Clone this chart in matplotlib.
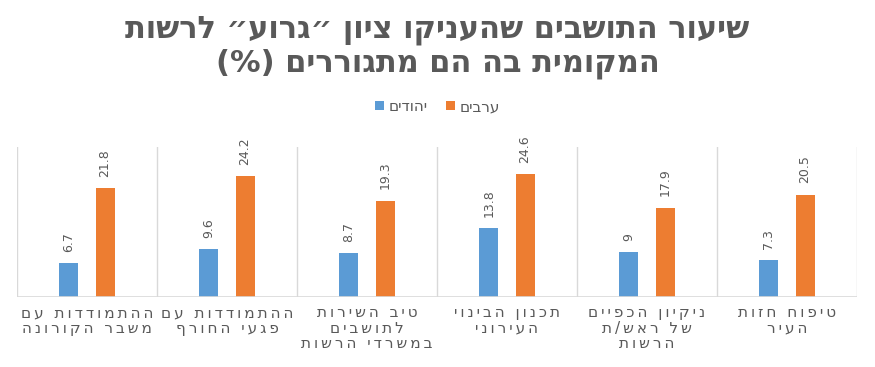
import matplotlib
matplotlib.use("Agg")
import matplotlib.pyplot as plt
import numpy as np

# data (left to right as shown in the chart)
categories = [
    "ההתמודדות עם\nמשבר הקורונה",
    "ההתמודדות עם\nפגעי החורף",
    "טיב השירות\nלתושבים\nבמשרדי הרשות",
    "תכנון הבינוי\nהעירוני",
    "ניקיון הכפיים\nשל ראש/ת\nהרשות",
    "טיפוח חזות\nהעיר",
]
jews = [6.7, 9.6, 8.7, 13.8, 9, 7.3]
arabs = [21.8, 24.2, 19.3, 24.6, 17.9, 20.5]
series_names = ["יהודים", "ערבים"]
title = "שיעור התושבים שהעניקו ציון ״גרוע״ לרשות\nהמקומית בה הם מתגוררים (%)"

MIRROR = str.maketrans("()", ")(")


def rtl(s, spaced=False):
    # matplotlib has no bidi support: reverse each line by hand
    lines = []
    for line in s.split("\n"):
        v = line[::-1].translate(MIRROR)
        if spaced:
            v = "\u2009".join(v)
        lines.append(v)
    return "\n".join(lines)


grey = "#595959"
blue = "#5B9BD5"
orange = "#ED7D31"
plt.rcParams["font.family"] = ["DejaVu Sans"]

fig = plt.figure(figsize=(8.75, 3.67), dpi=100)
ax = fig.add_axes([0.0194, 0.191, 0.96, 0.408])

x = np.arange(len(categories))
w = 0.136
off = 0.129
b1 = ax.bar(x - off, jews, w, color=blue, label=rtl(series_names[0]))
b2 = ax.bar(x + off, arabs, w, color=orange, label=rtl(series_names[1]))

for bars, vals in [(b1, jews), (b2, arabs)]:
    for r, v in zip(bars, vals):
        ax.annotate(f"{v:g}", (r.get_x() + r.get_width() / 2, v),
                    xytext=(0, 8), textcoords="offset points",
                    rotation=90, ha="center", va="bottom",
                    fontsize=9, color=grey)

ax.set_xlim(-0.5, len(categories) - 0.5)
ax.set_ylim(0, 30)
for b in np.arange(-0.5, len(categories), 1):
    ax.axvline(b, color="#d9d9d9", lw=1, zorder=0)
for s in ax.spines.values():
    s.set_visible(False)
ax.axhline(0, color="#d9d9d9", lw=1.2)
ax.set_yticks([])
ax.set_xticks(x)
ax.set_xticklabels([rtl(c, spaced=True) for c in categories],
                   fontsize=11, color=grey, linespacing=1.05)
ax.tick_params(axis="x", length=0, pad=6)

fig.text(0.5, 0.958, rtl(title), ha="center", va="top", fontsize=22,
         fontweight="bold", color=grey, linespacing=1.15)

ax.legend(loc="center", bbox_to_anchor=(0.5, 0.71), bbox_transform=fig.transFigure,
          ncol=2, frameon=False, fontsize=11, labelcolor=grey,
          handlelength=0.6, handleheight=0.6, handletextpad=0.3, columnspacing=1.2)

fig.savefig("out.png", dpi=100)
